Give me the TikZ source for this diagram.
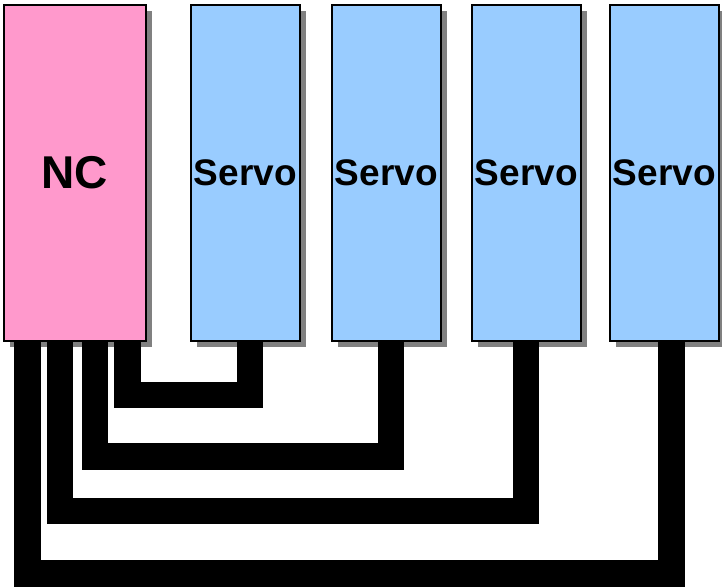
\documentclass[tikz,border=0pt]{standalone}
\usepackage{fontspec}
\setmainfont{Liberation Sans}
\usetikzlibrary{shadows}
\begin{document}
\begin{tikzpicture}[x=1pt,y=1pt,
  unit/.style={draw=black,line width=1.7pt,minimum height=336pt,inner sep=0pt,
    drop shadow={shadow xshift=6pt,shadow yshift=-6pt,
      fill={rgb,255:red,128;green,128;blue,128},opacity=1}},
  ncbox/.style={unit,fill={rgb,255:red,255;green,153;blue,204},minimum width=142pt,
    font=\fontsize{46}{46}\selectfont\bfseries},
  servobox/.style={unit,fill={rgb,255:red,153;green,204;blue,255},minimum width=109pt,
    font=\fontsize{37}{37}\selectfont\bfseries},
  cable/.style={line width=26.5pt,line join=miter,draw=black}]
\useasboundingbox (0,0) rectangle (722,587);
% control unit and servo amplifiers
\node[ncbox,anchor=north west] (nc) at (3,583) {NC};
\node[servobox,anchor=north west] (s1) at (190,583) {Servo};
\node[servobox,anchor=north west] (s2) at (331,583) {Servo};
\node[servobox,anchor=north west] (s3) at (471,583) {Servo};
\node[servobox,anchor=north west] (s4) at (609,583) {Servo};
% cable end points on the NC and on each servo
\coordinate (n1) at ([xshift=124.5]nc.south west);
\coordinate (n2) at ([xshift=92]nc.south west);
\coordinate (n3) at ([xshift=57]nc.south west);
\coordinate (n4) at ([xshift=24.7]nc.south west);
\coordinate (t1) at ([xshift=60]s1.south west);
\coordinate (t2) at ([xshift=60]s2.south west);
\coordinate (t3) at ([xshift=55]s3.south west);
\coordinate (t4) at ([xshift=62.5]s4.south west);
% cables from the NC to each servo
\draw[cable] (n1) -- ++(0,-53.5) -| (t1);
\draw[cable] (n2) -- ++(0,-115) -| (t2);
\draw[cable] (n3) -- ++(0,-169.5) -| (t3);
\draw[cable] (n4) -- ++(0,-232) -| (t4);
\end{tikzpicture}
\end{document}
